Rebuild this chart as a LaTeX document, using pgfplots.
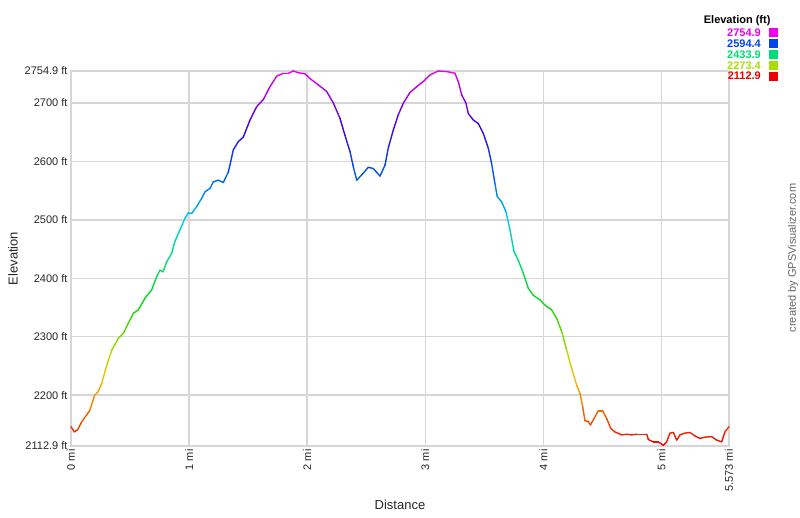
\documentclass[border=0pt]{standalone}
\usepackage{pgfplots}
\pgfplotsset{compat=1.18}
\usepackage{pgfplotstable}
\usepackage{fontspec}
\setmainfont{Liberation Sans}
\definecolor{gridc}{RGB}{214,214,214}
\definecolor{lmag}{RGB}{238,0,238}
\definecolor{lblue}{RGB}{0,68,238}
\definecolor{lgreen}{RGB}{0,221,119}
\definecolor{lyg}{RGB}{170,221,0}
\definecolor{lred}{RGB}{238,0,0}
\pgfplotstableread{
d e
0.000 2146
0.028 2137
0.057 2141
0.090 2154
0.160 2174
0.200 2200
0.230 2206
0.260 2220
0.300 2249
0.345 2277
0.400 2297
0.443 2306
0.485 2323
0.528 2340
0.570 2346
0.627 2366
0.683 2380
0.726 2403
0.754 2414
0.780 2411
0.810 2428
0.853 2443
0.880 2463
0.923 2483
0.966 2503
0.994 2512
1.022 2511
1.065 2523
1.107 2537
1.135 2548
1.177 2554
1.205 2565
1.248 2568
1.290 2564
1.333 2582
1.375 2620
1.417 2634
1.460 2642
1.516 2671
1.573 2694
1.629 2706
1.685 2728
1.742 2746
1.798 2751
1.840 2751
1.883 2754.9
1.925 2752
1.982 2750
2.024 2742
2.095 2731
2.165 2720
2.222 2700
2.278 2674
2.320 2645
2.363 2617
2.391 2591
2.420 2568
2.462 2577
2.518 2590
2.560 2588
2.617 2575
2.660 2594
2.687 2623
2.730 2654
2.772 2680
2.815 2700
2.871 2718
2.928 2728
2.984 2737
3.040 2748
3.110 2754.9
3.180 2754
3.252 2751
3.280 2737
3.309 2714
3.345 2700
3.365 2682
3.407 2671
3.450 2665
3.492 2648
3.534 2623
3.562 2597
3.590 2563
3.610 2540
3.647 2531
3.684 2514
3.718 2483
3.752 2446
3.788 2431
3.830 2409
3.873 2383
3.915 2371
3.972 2363
4.015 2354
4.071 2346
4.114 2331
4.156 2309
4.198 2277
4.240 2246
4.283 2217
4.311 2203
4.334 2180
4.353 2156
4.380 2155
4.400 2149
4.430 2160
4.466 2173
4.503 2173
4.537 2160
4.571 2143
4.607 2137
4.664 2132
4.706 2133
4.749 2132
4.791 2133
4.876 2133
4.890 2124
4.932 2120
4.974 2120
5.017 2114
5.045 2120
5.073 2135
5.102 2136
5.130 2123
5.158 2132
5.200 2135
5.243 2136
5.285 2130
5.327 2126
5.370 2128
5.426 2129
5.468 2123
5.511 2120
5.539 2137
5.573 2146
}\elev
\begin{document}
\begin{tikzpicture}
\path[use as bounding box] (-71pt,-71pt) rectangle (729pt,446pt);
\begin{axis}[
  scale only axis, width=658pt, height=375pt,
  at={(0,0)}, anchor=south west,
  xmin=0, xmax=5.573, ymin=2112.9, ymax=2754.9,
  xtick={0,1,2,3,4,5,5.573},
  xticklabels={0 mi,1 mi,2 mi,3 mi,4 mi,5 mi,5.573 mi},
  ytick={2112.9,2200,2300,2400,2500,2600,2700,2754.9},
  yticklabels={2112.9 ft,2200 ft,2300 ft,2400 ft,2500 ft,2600 ft,2700 ft,2754.9 ft},
  major tick length=0pt,
  grid=major,
  grid style={draw=gridc, line width=1.3pt},
  axis line style={draw=gridc, line width=1.3pt},
  tick label style={font=\fontsize{11}{13}\selectfont, text=black!85},
  xticklabel style={rotate=90, anchor=east, yshift=0pt},
  yticklabel style={xshift=0pt},
  xlabel={Distance}, ylabel={Elevation},
  label style={font=\fontsize{13}{15}\selectfont, text=black!85},
  xlabel style={at={(axis description cs:0.5,-0.157)}, anchor=center},
  ylabel style={at={(axis description cs:-0.0881,0.5)}, anchor=center, rotate=0},
  colormap={gps}{rgb255(0pt)=(238,0,0) rgb255(12pt)=(240,140,0) rgb255(20pt)=(232,205,0) rgb255(25pt)=(170,221,0) rgb255(37pt)=(20,210,20) rgb255(50pt)=(0,221,119) rgb255(60pt)=(0,205,230) rgb255(75pt)=(0,68,238) rgb255(85pt)=(60,0,230) rgb255(100pt)=(238,0,238)},
  point meta min=2112.9, point meta max=2754.9,
  clip=false,
]
\addplot[mesh, point meta=y, line width=1.4pt, line join=round, line cap=round] table[x=d, y=e] {\elev};
\end{axis}
% legend
\node[anchor=east, font=\bfseries\fontsize{11}{13}\selectfont] at (703pt,425.3pt) {Elevation (ft)};
\foreach \yy/\cc/\tt in {413/lmag/2754.9, 402.2/lblue/2594.4, 391.4/lgreen/2433.9, 380.6/lyg/2273.4, 369.8/lred/2112.9}{
  \node[anchor=east, inner sep=0pt, text=\cc, font=\bfseries\fontsize{11}{13}\selectfont] at (690pt,\yy pt) {\tt};
  \fill[\cc] (698pt,\yy pt-4.5pt) rectangle (707pt,\yy pt+4.5pt);
}
\node[rotate=90, text=black!60, font=\fontsize{11}{13}\selectfont] at (722pt,188pt) {created by GPSVisualizer.com};
\end{tikzpicture}
\end{document}
